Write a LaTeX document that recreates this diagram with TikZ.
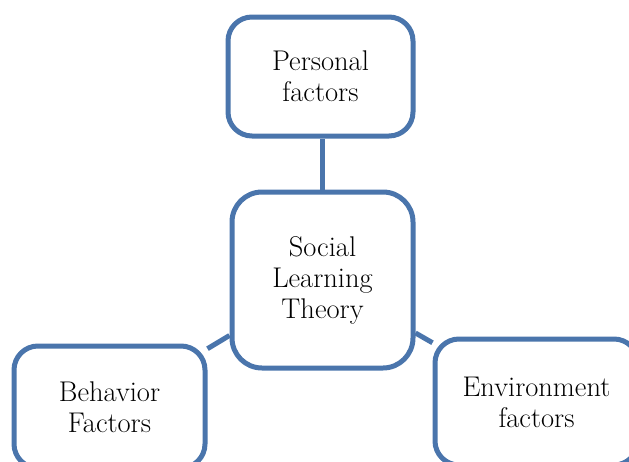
\documentclass[tikz,border=0pt]{standalone}
\usepackage{tikz}
\definecolor{boxblue}{RGB}{74,117,172}
\tikzset{
      factorbox/.style={draw=boxblue, line width=5pt, rounded corners=24pt, fill=white,
            align=center, inner sep=0pt, font=\fontsize{28.5}{31}\selectfont},
      link/.style={draw=boxblue, line width=5pt}
}
\begin{document}
\begin{tikzpicture}[x=1pt, y=-1pt]
            \useasboundingbox (0,0) rectangle (629,461);
            \node [factorbox, minimum width=185pt, minimum height=119pt] (personal) at (320.5,76.5) {Personal\\factors};
            \node [factorbox, minimum width=181pt, minimum height=176pt, rounded corners=30pt] (social) at (322.5,280) {Social\\Learning\\Theory};
            \node [factorbox, minimum width=191pt, minimum height=122pt] (behavior) at (109.5,407) {Behavior\\Factors};
            \node [factorbox, minimum width=203pt, minimum height=126pt] (environment) at (536.5,402) {Environment\\factors};
            \draw [link] (social.north) -- (social.north |- personal.south);
            \draw [link] (social) -- (behavior);
            \draw [link] (social) -- (environment);
      \end{tikzpicture}
\end{document}
